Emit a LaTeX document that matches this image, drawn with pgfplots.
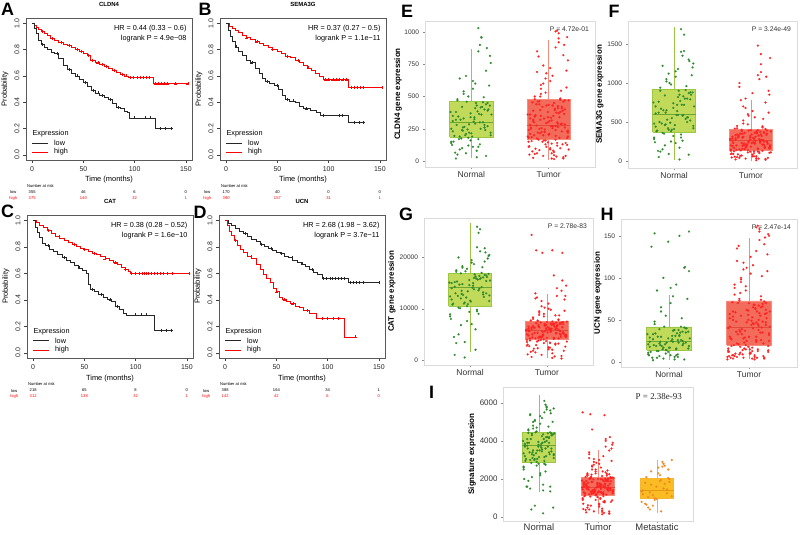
\documentclass[border=0pt]{standalone}
\usepackage{fontspec}
\setmainfont{Liberation Sans}
\newfontfamily\timesf{Liberation Serif}
\usepackage{pgfplots}
\pgfplotsset{compat=1.18}

\definecolor{nfill}{HTML}{C2DA5A}
\definecolor{nedge}{HTML}{9CC745}
\definecolor{nmed}{HTML}{6BA631}
\definecolor{npt}{HTML}{2F8A2F}
\definecolor{tfill}{HTML}{F26B5B}
\definecolor{tedge}{HTML}{F58C7E}
\definecolor{tmed}{HTML}{E04A3A}
\definecolor{tpt}{HTML}{FF2222}
\definecolor{mfill}{HTML}{FBBB22}
\definecolor{medge}{HTML}{F5B731}
\definecolor{mmed}{HTML}{E39A10}
\definecolor{mpt}{HTML}{EE8A22}

\newcommand\fkm{\fontsize{7.3}{8}\selectfont}
\newcommand\frisk{\fontsize{4.1}{4.5}\selectfont}

\pgfplotsset{
 km/.style={scale only axis, width=166bp, height=142bp, anchor=south west,
  xmin=-6, xmax=156, ymin=-0.04, ymax=1.04,
  xtick={0,50,100,150}, ytick={0,0.2,0.4,0.6,0.8,1},
  tick align=outside, major tick length=3bp,
  tick style={black!75, line width=0.4pt}, axis line style={black!65, line width=0.5pt},
  xtick pos=lower, ytick pos=left, clip=false,
  /pgf/number format/assume math mode=true,
  ticklabel style={font=\fontsize{7}{8}\selectfont, text=black!85},
  yticklabel style={rotate=90, anchor=south, /pgf/number format/fixed, /pgf/number format/fixed zerofill, /pgf/number format/precision=1},
  xlabel={Time (months)}, ylabel={Probability},
  label style={font=\fontsize{7.5}{8}\selectfont},
  xlabel style={at={(axis description cs:0.5,-0.141)}, anchor=center},
  ylabel style={at={(axis description cs:-0.127,0.5)}, anchor=center},
  title style={at={(axis description cs:0.5,1.056)}, anchor=center, font=\bfseries\fontsize{6}{7}\selectfont},
 },
 kmline/.style={const plot, line width=0.6pt},
 kmcens/.style={only marks, mark=+, mark size=1.5bp, line width=0.3pt},
 bx/.style={scale only axis, anchor=south west, xmin=0.4, xmax=2.6, xtick={1,2}, xticklabels={Normal,Tumor},
  tick align=outside, major tick length=2.5bp, tick style={black!45, line width=0.4pt},
  axis line style={black!14, line width=0.7pt}, xtick pos=lower, ytick pos=left,
  /pgf/number format/assume math mode=true, scaled y ticks=false,
  ticklabel style={text=black!80},
  xticklabel style={font=\fontsize{8.5}{9}\selectfont, inner sep=1.5bp},
  yticklabel style={font=\fontsize{6.6}{7}\selectfont, /pgf/number format/fixed, /pgf/number format/1000 sep={}},
  ylabel style={font=\bfseries\fontsize{8}{9}\selectfont, anchor=center},
 },
 npts/.style={only marks, mark=*, mark size=1.05bp, color=npt, mark options={line width=0.1pt}},
 tpts/.style={only marks, mark=*, mark size=1.05bp, color=tpt, mark options={line width=0.1pt}},
 mpts/.style={only marks, mark=*, mark size=1.05bp, color=mpt, mark options={line width=0.1pt}},
}

% box: #1 colour prefix, #2 left, #3 right, #4 centre, #5 lower whisker, #6 Q1, #7 median, #8 Q3, #9 upper whisker
\newcommand\bxdraw[9]{%
 \addplot[#1edge, line width=0.7pt] coordinates {(#4,#5)(#4,#6)};
 \addplot[#1edge, line width=0.7pt] coordinates {(#4,#8)(#4,#9)};
 \addplot[fill=#1fill, draw=#1edge, line width=0.6pt] coordinates {(#2,#6)(#3,#6)(#3,#8)(#2,#8)(#2,#6)};
 \addplot[#1med, line width=0.8pt] coordinates {(#2,#7)(#3,#7)};
}

\newcommand\kmtext[2]{%
 \node[anchor=east, font=\fkm] at (axis cs:154,0.96) {#1};
 \node[anchor=east, font=\fkm] at (axis cs:154,0.885) {#2};
 \node[anchor=west, font=\fkm] at (axis cs:-3,0.16) {Expression};
 \draw[black!85, line width=0.6pt] (axis cs:0,0.09) -- (axis cs:15,0.09);
 \draw[red, line width=0.6pt] (axis cs:0,0.02) -- (axis cs:15,0.02);
 \node[anchor=west, font=\fkm] at (axis cs:18,0.09) {low};
 \node[anchor=west, font=\fkm] at (axis cs:18,0.02) {high};
}
\newcommand\kmrisk[8]{%
 \node[font=\frisk] at (axis cs:8,-0.235) {Number at risk};
 \node[font=\frisk] at (axis cs:-18.5,-0.286) {low};
 \node[font=\frisk, text=red] at (axis cs:-18.5,-0.331) {high};
 \node[font=\frisk] at (axis cs:0,-0.286) {#1};
 \node[font=\frisk] at (axis cs:50,-0.286) {#2};
 \node[font=\frisk] at (axis cs:100,-0.286) {#3};
 \node[font=\frisk] at (axis cs:150,-0.286) {#4};
 \node[font=\frisk, text=red] at (axis cs:0,-0.331) {#5};
 \node[font=\frisk, text=red] at (axis cs:50,-0.331) {#6};
 \node[font=\frisk, text=red] at (axis cs:100,-0.331) {#7};
 \node[font=\frisk, text=red] at (axis cs:150,-0.331) {#8};
}

\begin{document}
\begin{tikzpicture}
\useasboundingbox (0,0) rectangle (800bp,535bp);

%% ---------------- A ----------------
\begin{axis}[km, at={(26bp,375bp)}, title={CLDN4}]
\addplot[red, kmline] coordinates {(0,1)(2,0.985)(4,0.97)(6,0.955)(9,0.94)(12,0.925)(15,0.905)(18,0.885)(22,0.87)(26,0.855)(30,0.84)(34,0.83)(38,0.815)(42,0.80)(46,0.785)(50,0.77)(54,0.755)(57,0.72)(62,0.70)(66,0.69)(70,0.67)(74,0.655)(78,0.64)(82,0.625)(86,0.61)(90,0.60)(94,0.59)(118,0.54)(152,0.54)};
\addplot[black!85, kmline] coordinates {(0,1)(2,0.96)(4,0.92)(6,0.87)(9,0.84)(12,0.82)(15,0.80)(19,0.78)(22,0.77)(26,0.73)(30,0.68)(34,0.65)(38,0.62)(42,0.60)(46,0.575)(50,0.55)(54,0.52)(58,0.49)(62,0.47)(66,0.45)(70,0.44)(74,0.42)(78,0.39)(82,0.36)(86,0.35)(90,0.33)(93,0.32)(95,0.28)(120,0.20)(136,0.20)};
\addplot[red, kmcens] coordinates {(10,0.94)(20,0.885)(28,0.855)(36,0.83)(44,0.80)(48,0.785)(55,0.755)(59,0.72)(64,0.70)(68,0.69)(72,0.67)(80,0.64)(88,0.61)(92,0.60)(96,0.59)(99,0.59)(102,0.59)(105,0.59)(108,0.59)(111,0.59)(114,0.59)(120,0.54)(123,0.54)(126,0.54)(129,0.54)(132,0.54)(140,0.54)(152,0.54)};
\addplot[black!85, kmcens] coordinates {(10,0.84)(24,0.77)(36,0.65)(44,0.60)(52,0.55)(60,0.49)(64,0.47)(68,0.45)(76,0.42)(84,0.36)(100,0.28)(110,0.28)(115,0.28)(125,0.20)(130,0.20)(136,0.20)};
\kmtext{HR = 0.44 (0.33 − 0.6)}{logrank P = 4.9e−08}
\kmrisk{355}{46}{6}{0}{375}{140}{32}{1}
\end{axis}

%% ---------------- B ----------------
\begin{axis}[km, at={(220bp,375bp)}, title={SEMA3G}]
\addplot[red, kmline] coordinates {(0,1)(3,0.975)(6,0.96)(9,0.945)(12,0.93)(16,0.91)(20,0.89)(24,0.875)(28,0.86)(32,0.85)(36,0.835)(41,0.82)(45,0.80)(50,0.785)(54,0.77)(58,0.75)(63,0.74)(67,0.72)(71,0.70)(75,0.68)(79,0.66)(83,0.64)(87,0.62)(91,0.60)(95,0.57)(119,0.515)(152,0.515)};
\addplot[black!85, kmline] coordinates {(0,1)(2,0.95)(4,0.90)(6,0.86)(9,0.82)(12,0.79)(16,0.76)(20,0.72)(24,0.70)(28,0.66)(32,0.62)(35,0.58)(38,0.56)(42,0.545)(47,0.53)(51,0.50)(55,0.45)(58,0.42)(62,0.41)(67,0.40)(71,0.37)(75,0.35)(82,0.34)(88,0.32)(92,0.30)(119,0.245)(134,0.245)};
\addplot[red, kmcens] coordinates {(20,0.89)(30,0.86)(45,0.80)(60,0.75)(70,0.72)(80,0.66)(97,0.57)(100,0.57)(104,0.57)(107,0.57)(110,0.57)(114,0.57)(117,0.57)(122,0.515)(125,0.515)(128,0.515)(131,0.515)(134,0.515)(152,0.515)};
\addplot[black!85, kmcens] coordinates {(10,0.82)(25,0.70)(40,0.56)(50,0.53)(60,0.42)(65,0.41)(78,0.35)(95,0.30)(110,0.30)(113,0.30)(125,0.245)(130,0.245)(134,0.245)};
\kmtext{HR = 0.37 (0.27 − 0.5)}{logrank P = 1.1e−11}
\kmrisk{170}{40}{0}{0}{390}{157}{31}{1}
\end{axis}

%% ---------------- C ----------------
\begin{axis}[km, at={(27bp,177bp)}, height=143bp, title={CAT}]
\addplot[red, kmline] coordinates {(0,1)(3,0.985)(6,0.965)(10,0.945)(14,0.925)(18,0.90)(22,0.88)(26,0.865)(30,0.85)(34,0.835)(38,0.82)(42,0.805)(46,0.79)(50,0.78)(54,0.765)(58,0.75)(62,0.74)(66,0.725)(70,0.71)(74,0.695)(78,0.68)(82,0.665)(86,0.645)(90,0.63)(93,0.615)(95,0.60)(152,0.60)};
\addplot[black!85, kmline] coordinates {(0,1)(2,0.95)(4,0.91)(6,0.87)(9,0.83)(12,0.81)(16,0.78)(20,0.765)(24,0.74)(28,0.72)(32,0.70)(36,0.68)(40,0.66)(44,0.64)(48,0.62)(52,0.60)(54,0.52)(56,0.48)(60,0.46)(64,0.44)(68,0.42)(72,0.40)(76,0.385)(80,0.35)(84,0.33)(88,0.30)(91,0.285)(118,0.17)(135,0.17)};
\addplot[red, kmcens] coordinates {(15,0.925)(25,0.88)(40,0.82)(50,0.78)(60,0.75)(70,0.71)(80,0.68)(90,0.63)(96,0.60)(100,0.60)(103,0.60)(106,0.60)(108,0.60)(110,0.60)(112,0.60)(115,0.60)(118,0.60)(121,0.60)(124,0.60)(127,0.60)(131,0.60)(136,0.60)(152,0.60)};
\addplot[black!85, kmcens] coordinates {(15,0.81)(30,0.72)(45,0.64)(58,0.48)(66,0.44)(75,0.40)(82,0.35)(100,0.285)(105,0.285)(110,0.285)(125,0.17)(130,0.17)(135,0.17)};
\kmtext{HR = 0.38 (0.28 − 0.52)}{logrank P = 1.6e−10}
\kmrisk{218}{65}{8}{0}{312}{138}{32}{1}
\end{axis}

%% ---------------- D ----------------
\begin{axis}[km, at={(219bp,177bp)}, height=143bp, title={UCN}]
\addplot[black!85, kmline] coordinates {(0,1)(3,0.98)(6,0.96)(10,0.94)(14,0.92)(18,0.90)(22,0.88)(26,0.86)(30,0.84)(34,0.82)(38,0.80)(42,0.79)(46,0.77)(50,0.76)(54,0.75)(58,0.73)(62,0.72)(66,0.70)(70,0.685)(74,0.67)(78,0.65)(82,0.63)(86,0.61)(90,0.59)(95,0.56)(120,0.53)(150,0.53)};
\addplot[red, kmline] coordinates {(0,1)(2,0.96)(4,0.92)(6,0.89)(9,0.85)(12,0.81)(15,0.78)(18,0.76)(22,0.73)(26,0.71)(30,0.67)(34,0.63)(37,0.59)(40,0.56)(44,0.53)(47,0.49)(50,0.46)(53,0.42)(56,0.40)(60,0.39)(64,0.37)(68,0.35)(72,0.34)(76,0.32)(82,0.30)(89,0.26)(116,0.12)(127,0.12)};
\addplot[black!85, kmcens] coordinates {(20,0.90)(35,0.82)(45,0.79)(55,0.75)(65,0.72)(75,0.67)(85,0.63)(96,0.56)(99,0.56)(102,0.56)(104,0.56)(107,0.56)(110,0.56)(113,0.56)(116,0.56)(122,0.53)(125,0.53)(128,0.53)(131,0.53)(135,0.53)(150,0.53)};
\addplot[red, kmcens] coordinates {(10,0.85)(25,0.73)(50,0.46)(58,0.40)(66,0.37)(80,0.32)(95,0.26)(100,0.26)(105,0.26)(110,0.26)(127,0.12)};
\kmtext{HR = 2.68 (1.98 − 3.62)}{logrank P = 3.7e−11}
\kmrisk{388}{164}{34}{1}{142}{42}{6}{0}
\end{axis}

%% ---------------- E ----------------
\begin{axis}[bx, at={(425bp,368bp)}, width=170bp, height=146bp, ymin=-46, ymax=1085, ytick={0,250,500,750,1000},
 ylabel={CLDN4 gene expression}, ylabel style={at={(axis description cs:-0.159,0.5)}}]
\bxdraw{n}{0.72}{1.28}{1}{20}{186}{302}{465}{868}
\bxdraw{t}{1.72}{2.28}{2}{10}{170}{279}{480}{938}
\addplot[npts] coordinates {(0.76,310)(1.09,1030)(0.96,180)(1.21,450)(0.85,90)(1.02,620)(1.17,260)(0.80,380)(1.07,30)(0.90,520)(1.25,200)(0.99,340)(1.13,960)(0.74,140)(1.05,410)(0.88,240)(1.19,700)(0.93,60)(1.11,300)(0.82,470)
(0.76,230)(1.09,850)(0.96,120)(1.21,390)(0.85,190)(1.02,560)(1.17,280)(0.80,20)(1.07,430)(0.90,330)(1.25,760)(0.99,160)(1.13,360)(0.74,250)(1.05,600)(0.88,100)(1.19,440)(0.93,210)(1.11,900)(0.82,50)
(0.76,350)(1.09,170)(0.96,500)(1.21,270)(0.85,640)(1.02,110)(1.17,400)(0.80,320)(1.07,80)(0.90,540)(1.25,220)(0.99,370)(1.13,955)(0.74,150)(1.05,290)(0.88,420)(1.19,40)(0.93,660)(1.11,130)(0.82,480)
(1.03,305)(0.78,195)(1.15,455)(0.91,265)(1.23,585)(0.83,345)(1.00,215)(1.12,415)(0.75,125)(1.08,385)(0.95,245)(1.20,875)(0.87,175)(1.04,325)(1.16,495)(0.79,65)(1.10,365)(0.97,285)(1.24,815)(0.89,235)
(0.81,280)(1.14,420)(0.92,200)(1.26,360)(0.77,150)(1.06,450)(1.18,240)(0.86,320)(1.01,190)(1.22,400)(0.89,260)(1.09,110)(0.73,380)(1.15,300)(0.97,220)(1.24,430)(0.84,170)(1.04,340)(1.12,250)(0.94,460)};
\addplot[tpts] coordinates {(1.76,280)(2.09,1005)(1.96,160)(2.21,470)(1.85,60)(2.02,720)(2.17,230)(1.80,390)(2.07,15)(1.90,560)(2.25,190)(1.99,340)(2.13,950)(1.74,110)(2.05,430)(1.88,250)(2.19,820)(1.93,40)(2.11,300)(1.82,500)
(1.76,210)(2.09,880)(1.96,130)(2.21,400)(1.85,175)(2.02,620)(2.17,290)(1.80,25)(2.07,450)(1.90,350)(2.25,780)(1.99,145)(2.13,370)(1.74,240)(2.05,660)(1.88,85)(2.19,460)(1.93,200)(2.11,1010)(1.82,55)
(1.76,330)(2.09,165)(1.96,530)(2.21,260)(1.85,690)(2.02,100)(2.17,420)(1.80,310)(2.07,70)(1.90,590)(2.25,220)(1.99,380)(2.13,920)(1.74,150)(2.05,270)(1.88,440)(2.19,30)(1.93,740)(2.11,120)(1.82,480)
(1.76,360)(2.09,195)(1.96,640)(2.21,285)(1.85,850)(2.02,90)(2.17,410)(1.80,320)(2.07,45)(1.90,520)(2.25,235)(1.99,300)(2.13,990)(1.74,180)(2.05,255)(1.88,465)(2.19,20)(1.93,600)(2.11,140)(1.82,345)
(2.03,270)(1.78,185)(2.15,475)(1.91,225)(2.23,700)(1.83,355)(2.00,205)(2.12,425)(1.75,115)(2.08,395)(1.95,245)(2.20,900)(1.87,165)(2.04,315)(2.16,545)(1.79,75)(2.10,375)(1.97,295)(2.24,960)(1.89,215)
(2.03,335)(1.78,155)(2.15,485)(1.91,255)(2.23,570)(1.83,95)(2.00,435)(2.12,265)(1.75,50)(2.08,405)(1.95,225)(2.20,365)(1.87,810)(2.04,135)(2.16,285)(1.79,455)(2.10,35)(1.97,680)(2.24,125)(1.89,395)
(1.81,300)(2.14,180)(1.92,420)(2.26,90)(1.77,250)(2.06,350)(2.18,130)(1.86,460)(2.01,210)(2.22,40)(1.89,320)(2.09,270)(1.73,190)(2.15,380)(1.97,110)(2.24,230)(1.84,440)(2.04,60)(2.12,290)(1.94,160)
(1.81,200)(2.14,340)(1.92,150)(2.26,470)(1.77,260)(2.06,80)(2.18,390)(1.86,220)(2.01,310)(2.22,140)(1.89,500)(2.09,240)(1.73,360)(2.15,100)(1.97,430)(2.24,180)(1.84,275)(2.04,20)(2.12,410)(1.94,330)};
\node[anchor=north east, font=\fontsize{6.8}{7}\selectfont, text=black!80] at (rel axis cs:0.985,0.985) {P = 4.72e-01};
\end{axis}

%% ---------------- F ----------------
\begin{axis}[bx, at={(628bp,367bp)}, width=169bp, height=147bp, ymin=-90, ymax=1795, ytick={0,500,1000,1500},
 ylabel={SEMA3G gene expression}, ylabel style={at={(axis description cs:-0.166,0.5)}}]
\bxdraw{n}{0.72}{1.28}{1}{10}{370}{600}{920}{1715}
\bxdraw{t}{1.72}{2.28}{2}{5}{140}{270}{400}{780}
\addplot[npts] coordinates {(0.76,610)(1.09,1690)(0.96,380)(1.21,880)(0.85,150)(1.02,1150)(1.17,500)(0.80,760)(1.07,20)(0.90,1020)(1.25,420)(0.99,680)(1.13,1620)(0.74,300)(1.05,820)(0.88,460)(1.19,1300)(0.93,90)(1.11,580)(0.82,940)
(0.76,440)(1.09,1400)(0.96,250)(1.21,790)(0.85,360)(1.02,1080)(1.17,560)(0.80,50)(1.07,850)(0.90,650)(1.25,1250)(0.99,320)(1.13,720)(0.74,480)(1.05,1180)(0.88,200)(1.19,870)(0.93,400)(1.11,1350)(0.82,120)
(0.76,700)(1.09,340)(0.96,980)(1.21,520)(0.85,1220)(1.02,230)(1.17,800)(0.80,620)(1.07,170)(0.90,1050)(1.25,450)(0.99,740)(1.13,1410)(0.74,280)(1.05,590)(0.88,840)(1.19,80)(0.93,1120)(1.11,260)(0.82,900)
(1.03,590)(0.78,390)(1.15,910)(0.91,530)(1.23,1100)(0.83,670)(1.00,410)(1.12,830)(0.75,240)(1.08,770)(0.95,490)(1.20,1280)(0.87,350)(1.04,640)(1.16,960)(0.79,130)(1.10,720)(0.97,550)(1.24,1200)(0.89,470)
(0.81,500)(1.14,800)(0.92,420)(1.26,700)(0.77,380)(1.06,900)(1.18,560)(0.86,650)(1.01,460)(1.22,850)(0.89,620)(1.09,300)(0.73,750)(1.15,540)(0.97,400)(1.24,880)(0.84,480)(1.04,720)(1.12,590)(0.94,1000)};
\addplot[tpts] coordinates {(1.76,260)(2.09,1480)(1.96,140)(2.21,390)(1.85,40)(2.02,870)(2.17,210)(1.80,330)(2.07,10)(1.90,520)(2.25,170)(1.99,300)(2.13,1370)(1.74,90)(2.05,360)(1.88,230)(2.19,750)(1.93,30)(2.11,280)(1.82,420)
(1.76,190)(2.09,1100)(1.96,110)(2.21,350)(1.85,150)(2.02,640)(2.17,250)(1.80,20)(2.07,380)(1.90,310)(2.25,1320)(1.99,120)(2.13,340)(1.74,200)(2.05,560)(1.88,70)(2.19,410)(1.93,180)(2.11,1050)(1.82,50)
(1.76,290)(2.09,150)(1.96,470)(2.21,240)(1.85,1000)(2.02,80)(2.17,370)(1.80,270)(2.07,60)(1.90,700)(2.25,190)(1.99,320)(2.13,1240)(1.74,130)(2.05,220)(1.88,400)(2.19,15)(1.93,800)(2.11,100)(1.82,450)
(1.76,310)(2.09,160)(1.96,600)(2.21,250)(1.85,950)(2.02,60)(2.17,360)(1.80,290)(2.07,35)(1.90,480)(2.25,200)(1.99,270)(2.13,1140)(1.74,145)(2.05,230)(1.88,385)(2.19,25)(1.93,680)(2.11,115)(1.82,340)
(2.03,240)(1.78,165)(2.15,430)(1.91,205)(2.23,900)(1.83,300)(2.00,185)(2.12,375)(1.75,95)(2.08,355)(1.95,215)(2.20,1080)(1.87,135)(2.04,285)(2.16,540)(1.79,55)(2.10,325)(1.97,255)(2.24,850)(1.89,195)
(2.03,295)(1.78,125)(2.15,445)(1.91,225)(2.23,620)(1.83,85)(2.00,395)(2.12,235)(1.75,45)(2.08,365)(1.95,205)(2.20,335)(1.87,780)(2.04,125)(2.16,265)(1.79,415)(2.10,30)(1.97,580)(2.24,105)(1.89,350)
(1.81,200)(2.14,320)(1.92,150)(2.26,380)(1.77,90)(2.06,260)(2.18,170)(1.86,350)(2.01,230)(2.22,40)(1.89,300)(2.09,120)(1.73,280)(2.15,210)(1.97,390)(2.24,160)(1.84,330)(2.04,60)(2.12,250)(1.94,180)
(1.81,140)(2.14,270)(1.92,360)(2.26,110)(1.77,230)(2.06,310)(2.18,190)(1.86,65)(2.01,340)(2.22,220)(1.89,155)(2.09,395)(1.73,280)(2.15,130)(1.97,240)(2.24,175)(1.84,315)(2.04,100)(2.12,265)(1.94,205)};
\node[anchor=north east, font=\fontsize{6.8}{7}\selectfont, text=black!80] at (rel axis cs:0.985,0.985) {P = 3.24e-49};
\end{axis}

%% ---------------- G ----------------
\begin{axis}[bx, at={(424bp,170bp)}, width=169bp, height=147bp, ymin=-975, ymax=27700, ytick={0,10000,20000},
 ylabel={CAT gene expression}, ylabel style={at={(axis description cs:-0.19,0.5)}}]
\bxdraw{n}{0.72}{1.28}{1}{1560}{10530}{14240}{16970}{26700}
\bxdraw{t}{1.72}{2.28}{2}{300}{4100}{5850}{7600}{12900}
\addplot[npts] coordinates {(0.76,14000)(1.09,26000)(0.96,10500)(1.21,16500)(0.85,5000)(1.02,19500)(1.17,12800)(0.80,15200)(1.07,2000)(0.90,18300)(1.25,11500)(0.99,14600)(1.13,25500)(0.74,8500)(1.05,16000)(0.88,12000)(1.19,21800)(0.93,3500)(1.11,13600)(0.82,17200)
(0.76,11800)(1.09,22000)(0.96,7600)(1.21,15400)(0.85,10200)(1.02,19000)(1.17,13200)(0.80,1000)(1.07,16300)(0.90,14800)(1.25,20500)(0.99,9400)(1.13,15800)(0.74,12400)(1.05,18700)(0.88,6800)(1.19,16600)(0.93,11200)(1.11,24800)(0.82,3300)
(0.76,15000)(1.09,9800)(0.96,17800)(1.21,13000)(0.85,20000)(1.02,7000)(1.17,16100)(0.80,14300)(1.07,6000)(0.90,18000)(1.25,12600)(0.99,15600)(1.13,21200)(0.74,8900)(1.05,13800)(0.88,16900)(1.19,19200)(0.93,500)(1.11,9000)(0.82,17500)
(1.03,14100)(0.78,11000)(1.15,17000)(0.91,12700)(1.23,19800)(0.83,15300)(1.00,11600)(1.12,16400)(0.75,8000)(1.08,15900)(0.95,12200)(1.20,21000)(0.87,10100)(1.04,14500)(1.16,18100)(0.79,4500)(1.10,15700)(0.97,13400)(1.24,20300)(0.89,12900)
(0.81,13000)(1.14,16000)(0.92,11000)(1.26,15500)(0.77,10800)(1.06,16700)(1.18,12300)(0.86,14700)(1.01,11400)(1.22,16200)(0.89,13500)(1.09,9500)(0.73,15100)(1.15,14200)(0.97,10900)(1.24,16800)(0.84,12500)(1.04,15000)(1.12,13900)(0.94,17300)};
\addplot[tpts] coordinates {(1.76,5800)(2.09,6900)(1.96,4000)(2.21,7400)(1.85,1500)(2.02,11000)(2.17,5100)(1.80,24400)(2.07,400)(1.90,9200)(2.25,4500)(1.99,6200)(2.13,6500)(1.74,2800)(2.05,7100)(1.88,5300)(2.19,13500)(1.93,1000)(2.11,6000)(1.82,8000)
(1.76,4800)(2.09,16500)(1.96,3300)(2.21,7000)(1.85,4200)(2.02,10000)(2.17,5600)(1.80,600)(2.07,7500)(1.90,6400)(2.25,14500)(1.99,3700)(2.13,6700)(1.74,5000)(2.05,9800)(1.88,2300)(2.19,7300)(1.93,4400)(2.11,8700)(1.82,1800)
(1.76,6100)(2.09,4300)(1.96,8500)(2.21,5400)(1.85,12000)(2.02,2500)(2.17,7200)(1.80,6300)(2.07,2000)(1.90,9500)(2.25,4900)(1.99,6800)(2.13,14000)(1.74,3500)(2.05,5700)(1.88,7700)(2.19,800)(1.93,11500)(2.11,3000)(1.82,8300)
(1.76,6500)(2.09,4100)(1.96,9000)(2.21,5200)(1.85,13000)(2.02,2100)(2.17,7000)(1.80,6000)(2.07,1300)(1.90,8800)(2.25,4700)(1.99,5900)(2.13,12500)(1.74,3900)(2.05,5500)(1.88,7600)(2.19,300)(1.93,10500)(2.11,3200)(1.82,6600)
(1.86,21400)(1.94,20900)(2.07,21400)(2.20,20900)
(2.03,5900)(1.78,4200)(2.15,7800)(1.91,4600)(2.23,11800)(1.83,6300)(2.00,4300)(2.12,7300)(1.75,3000)(2.08,6900)(1.95,5000)(2.20,15500)(1.87,3600)(2.04,6100)(2.16,8700)(1.79,1600)(2.10,6500)(1.97,5600)(2.24,12500)(1.89,4400)
(2.03,6200)(1.78,3800)(2.15,7900)(1.91,4500)(2.23,9600)(1.83,2200)(2.00,7400)(2.12,5300)(1.75,1100)(2.08,7000)(1.95,4800)(2.20,6400)(1.87,12200)(2.04,3400)(2.16,5800)(1.79,7700)(2.10,700)(1.97,10200)(2.24,2600)(1.89,6800)
(1.81,5000)(2.14,6800)(1.92,3900)(2.26,7500)(1.77,2700)(2.06,6100)(2.18,4500)(1.86,7200)(2.01,5400)(2.22,1800)(1.89,6600)(2.09,4300)(1.73,5700)(2.15,3200)(1.97,7000)(2.24,4800)(1.84,6300)(2.04,2400)(2.12,5200)(1.94,4700)
(1.81,4400)(2.14,6000)(1.92,7300)(2.26,3600)(1.77,5600)(2.06,6900)(2.18,4900)(1.86,2900)(2.01,6400)(2.22,5100)(1.89,3800)(2.09,7100)(1.73,5900)(2.15,4200)(1.97,6700)(2.24,4600)(1.84,5300)(2.04,3300)(2.12,6200)(1.94,5500)};
\node[anchor=north east, font=\fontsize{6.8}{7}\selectfont, text=black!80] at (rel axis cs:0.985,0.985) {P = 2.78e-83};
\end{axis}

%% ---------------- H ----------------
\begin{axis}[bx, at={(621bp,168bp)}, width=176bp, height=148bp, ymin=-6, ymax=170, ytick={0,50,100,150},
 ylabel={UCN gene expression}, ylabel style={at={(axis description cs:-0.131,0.5)}}]
\bxdraw{n}{0.72}{1.28}{1}{2}{14}{24}{41.6}{80}
\bxdraw{t}{1.72}{2.28}{2}{3}{20}{41.6}{72.6}{147}
\addplot[npts] coordinates {(0.76,24)(1.09,16)(0.96,14)(1.21,40)(0.85,5)(1.02,88)(1.17,20)(0.80,33)(1.07,3)(0.90,60)(1.25,155)(0.99,28)(1.13,150)(0.74,9)(1.05,37)(0.88,22)(1.19,112)(0.93,4)(1.11,26)(0.82,45)
(0.76,18)(1.09,92)(0.96,10)(1.21,35)(0.85,13)(1.02,70)(1.17,25)(0.80,2)(1.07,38)(0.90,30)(1.25,108)(0.99,12)(1.13,32)(0.74,21)(1.05,78)(0.88,7)(1.19,41)(0.93,17)(1.11,6)(0.82,153)
(0.76,29)(1.09,15)(0.96,55)(1.21,23)(0.85,85)(1.02,8)(1.17,36)(0.80,27)(1.07,6)(0.90,65)(1.25,19)(0.99,143)(1.13,31)(0.74,11)(1.05,24)(0.88,39)(1.19,3)(0.93,100)(1.11,9)(0.82,48)
(1.03,25)(0.78,137)(1.15,42)(0.91,19)(1.23,75)(0.83,34)(1.00,17)(1.12,38)(0.75,8)(1.08,31)(0.95,21)(1.20,113)(0.87,13)(1.04,27)(1.16,52)(0.79,5)(1.10,34)(0.97,23)(1.24,16)(0.89,20)
(0.81,20)(1.14,35)(0.92,15)(1.26,28)(0.77,12)(1.06,38)(1.18,22)(0.86,30)(1.01,17)(1.22,40)(0.89,24)(1.09,8)(0.73,33)(1.15,26)(0.97,14)(1.24,36)(0.84,19)(1.04,31)(1.12,23)(0.94,42)};
\addplot[tpts] coordinates {(1.76,42)(2.09,160)(1.96,20)(2.21,70)(1.85,6)(2.02,125)(2.17,35)(1.80,60)(2.07,3)(1.90,95)(2.25,25)(1.99,50)(2.13,155)(1.74,12)(2.05,65)(1.88,38)(2.19,140)(1.93,5)(2.11,45)(1.82,80)
(1.76,30)(2.09,132)(1.96,15)(2.21,62)(1.85,22)(2.02,105)(2.17,48)(1.80,4)(2.07,68)(1.90,55)(2.25,150)(1.99,18)(2.13,58)(1.74,40)(2.05,115)(1.88,9)(2.19,72)(1.93,28)(2.11,162)(1.82,7)
(1.76,52)(2.09,24)(1.96,85)(2.21,44)(1.85,120)(2.02,10)(2.17,66)(1.80,54)(2.07,8)(1.90,100)(2.25,32)(1.99,61)(2.13,145)(1.74,14)(2.05,46)(1.88,75)(2.19,4)(1.93,110)(2.11,13)(1.82,88)
(1.76,57)(2.09,26)(1.96,90)(2.21,47)(1.85,135)(2.02,11)(2.17,69)(1.80,50)(2.07,6)(1.90,98)(2.25,34)(1.99,56)(2.13,158)(1.74,16)(2.05,40)(1.88,73)(2.19,5)(1.93,118)(2.11,15)(1.82,92)
(2.03,44)(1.78,27)(2.15,74)(1.91,33)(2.23,128)(1.83,59)(2.00,30)(2.12,67)(1.75,12)(2.08,63)(1.95,37)(2.20,148)(1.87,21)(2.04,53)(2.16,102)(1.79,8)(2.10,60)(1.97,47)(2.24,152)(1.89,36)
(2.03,49)(1.78,19)(2.15,78)(1.91,39)(2.23,108)(1.83,10)(2.00,70)(2.12,43)(1.75,7)(2.08,64)(1.95,29)(2.20,57)(1.87,138)(2.04,17)(2.16,41)(1.79,71)(2.10,5)(1.97,112)(2.24,14)(1.89,82)
(1.81,8)(2.14,35)(1.92,14)(2.26,60)(1.77,5)(2.06,45)(2.18,22)(1.86,70)(2.01,10)(2.22,52)(1.89,18)(2.09,30)(1.73,6)(2.15,65)(1.97,25)(2.24,12)(1.84,48)(2.04,4)(2.12,38)(1.94,16)
(1.81,20)(2.14,55)(1.92,9)(2.26,42)(1.77,28)(2.06,68)(2.18,7)(1.86,33)(2.01,15)(2.22,58)(1.89,11)(2.09,47)(1.73,3)(2.15,26)(1.97,62)(2.24,19)(1.84,36)(2.04,13)(2.12,50)(1.94,23)};
\node[anchor=north east, font=\fontsize{6.8}{7}\selectfont, text=black!80] at (rel axis cs:0.985,0.985) {P = 2.47e-14};
\end{axis}

%% ---------------- I ----------------
\begin{axis}[bx, at={(503bp,14bp)}, width=190bp, height=134bp, xmin=0.39, xmax=3.61, xtick={1,2,3}, xticklabels={Normal,Tumor,Metastatic},
 major tick length=2bp,
 xticklabel style={font=\fontsize{9.5}{10}\selectfont, inner sep=0.8bp}, yticklabel style={font=\fontsize{8}{9}\selectfont},
 ymin=-204, ymax=6830, ytick={0,2000,4000,6000},
 ylabel={Signature expression}, ylabel style={at={(axis description cs:-0.163,0.5)}}]
\bxdraw{n}{0.72}{1.28}{1}{1330}{2900}{3780}{4430}{6430}
\bxdraw{t}{1.72}{2.28}{2}{150}{1170}{1580}{2090}{3500}
\bxdraw{m}{2.72}{3.28}{3}{200}{970}{1380}{2040}{3010}
\addplot[npts] coordinates {(0.76,3800)(1.09,6100)(0.96,2900)(1.21,4400)(0.85,1500)(1.02,5300)(1.17,3400)(0.80,4100)(1.07,200)(0.90,5000)(1.25,3100)(0.99,3700)(1.13,5800)(0.74,2500)(1.05,4250)(0.88,3300)(1.19,5600)(0.93,600)(1.11,3600)(0.82,4600)
(0.76,3200)(1.09,5500)(0.96,2700)(1.21,4300)(0.85,3000)(1.02,4900)(1.17,3900)(0.80,1600)(1.07,4350)(0.90,3500)(1.25,5700)(0.99,2800)(1.13,4000)(0.74,3350)(1.05,5200)(0.88,2100)(1.19,4450)(0.93,3050)(1.11,5900)(0.82,1900)
(0.76,3850)(1.09,2950)(0.96,4700)(1.21,3450)(0.85,5400)(1.02,2300)(1.17,4150)(0.80,3750)(1.07,1400)(0.90,4800)(1.25,3250)(0.99,3950)(1.13,5650)(0.74,2650)(1.05,3550)(0.88,4380)(1.19,1600)(0.93,5100)(1.11,2400)(0.82,4550)
(0.76,3700)(1.09,3150)(0.96,4500)(1.21,3600)(0.85,5350)(1.02,2200)(1.17,4200)(0.80,3900)(1.07,1700)(0.90,4650)(1.25,3300)(0.99,3800)(1.13,5750)(0.74,2600)(1.05,3450)(0.88,4300)(1.19,1350)(0.93,5050)(1.11,2750)(0.82,4420)
(1.03,3750)(0.78,3050)(1.15,4400)(0.91,3250)(1.23,5000)(0.83,3900)(1.00,3150)(1.12,4200)(0.75,2000)(1.08,4100)(0.95,3350)(1.20,5450)(0.87,2850)(1.04,3650)(1.16,4750)(0.79,1600)(1.10,3950)(0.97,3500)(1.24,500)(0.89,3400)(0.87,400)
(0.81,3600)(1.14,4200)(0.92,3000)(1.26,4400)(0.77,2950)(1.06,3900)(1.18,3300)(0.86,4100)(1.01,3500)(1.22,4300)(0.89,3100)(1.09,2800)(0.73,4000)(1.15,3700)(0.97,3050)(1.24,4350)(0.84,3400)(1.04,3850)(1.12,3200)(0.94,4450)};
\addplot[tpts] coordinates {(1.76,1600)(2.09,800)(1.96,1150)(2.21,2100)(1.85,400)(2.02,3000)(2.17,1400)(1.80,1900)(2.07,150)(1.90,2700)(2.25,1250)(1.99,1750)(2.13,4100)(1.74,5500)(2.05,2000)(1.88,1350)(2.19,3500)(1.93,300)(2.11,1550)(1.82,2300)
(1.76,1300)(2.09,3200)(1.96,900)(2.21,2050)(1.85,1200)(2.02,2800)(2.17,1650)(1.80,250)(2.07,2150)(1.90,1850)(2.25,3900)(1.99,1050)(2.13,1950)(1.74,1450)(2.05,2600)(1.88,600)(2.19,2250)(1.93,1280)(2.11,5350)(1.82,500)
(1.76,1700)(2.09,1100)(1.96,2400)(2.21,1500)(1.85,3300)(2.02,700)(2.17,1980)(1.80,1680)(2.07,350)(1.90,2500)(2.25,1380)(1.99,1800)(2.13,4000)(1.74,950)(2.05,1580)(1.88,2080)(2.19,200)(1.93,2900)(2.11,850)(1.82,2200)
(1.76,1750)(2.09,1180)(1.96,2500)(2.21,1420)(1.85,3100)(2.02,650)(2.17,2030)(1.80,1720)(2.07,450)(1.90,4600)(2.25,1330)(1.99,1620)(2.13,2350)(1.74,1000)(2.05,1480)(1.88,2120)(2.19,300)(1.93,2750)(2.11,780)(1.82,2250)
(1.76,1820)(2.09,1220)(1.96,2300)(2.21,1520)(1.85,3400)(2.02,550)(2.17,1880)(1.80,1600)(2.07,280)(1.90,2650)(2.25,1260)(1.99,1700)(2.13,3700)(1.74,900)(2.05,1530)(1.88,2060)(2.19,180)(1.93,3050)(2.11,820)(1.82,2180)
(2.03,1650)(1.78,1240)(2.15,2180)(1.91,1370)(2.23,3600)(1.83,1800)(2.00,1290)(2.12,2020)(1.75,700)(2.08,1950)(1.95,1430)(2.20,4200)(1.87,1080)(2.04,1720)(2.16,2450)(1.79,380)(2.10,1880)(1.97,1560)(2.24,3800)(1.89,1310)
(2.03,1770)(1.78,1130)(2.15,2270)(1.91,1410)(2.23,2950)(1.83,620)(2.00,2010)(2.12,1610)(1.75,420)(2.08,2400)(1.95,1340)(2.20,1740)(1.87,5400)(2.04,960)(2.16,1510)(1.79,2110)(2.10,220)(1.97,2850)(2.24,880)(1.89,2230)
(1.81,1500)(2.14,1900)(1.92,1250)(2.26,2050)(1.77,1100)(2.06,1700)(2.18,1400)(1.86,2000)(2.01,1600)(2.22,800)(1.89,1850)(2.09,1300)(1.73,1550)(2.15,1950)(1.97,1200)(2.24,2080)(1.84,1450)(2.04,1000)(2.12,1750)(1.94,1350)
(1.81,1650)(2.14,1180)(1.92,1980)(2.26,1420)(1.77,1780)(2.06,1270)(2.18,1530)(1.86,2020)(2.01,1350)(2.22,1880)(1.89,1220)(2.09,1620)(1.73,1920)(2.15,1480)(1.97,1150)(2.24,2060)(1.84,1570)(2.04,1320)(2.12,1720)(1.94,1450)};
\addplot[mpts] coordinates {(2.76,1400)(3.09,2900)(2.96,1000)(3.21,2000)(2.85,500)(3.02,2600)(3.17,1250)(2.80,1800)(3.07,300)(2.90,2400)(3.25,1100)(2.99,1600)(3.13,2700)(2.74,800)(3.05,1900)(2.88,1300)(3.19,2500)(2.93,600)(3.11,1500)(2.82,2100)
(2.76,1200)(3.09,2650)(2.96,900)(3.21,1850)(2.85,1050)(3.02,2300)(3.17,1450)(2.80,700)(3.07,1950)(2.90,1700)(3.25,3000)(2.99,950)(3.13,1750)(2.74,1350)(3.05,2200)(2.88,400)(3.19,2050)(2.93,1150)(3.11,2800)(2.82,650)};
\node[anchor=north east, font=\timesf\fontsize{9}{10}\selectfont, text=black!85] at (rel axis cs:0.96,0.975) {P = 2.38e-93};
\end{axis}

%% ---------------- panel letters ----------------
\begin{scope}[every node/.style={font=\bfseries\fontsize{18}{18}\selectfont, inner sep=0pt}]
\node at (7.5bp,526bp) {A};
\node at (205bp,526bp) {B};
\node at (7.5bp,324bp) {C};
\node at (200bp,323bp) {D};
\node at (407bp,524bp) {E};
\node at (614bp,524bp) {F};
\node at (406bp,321bp) {G};
\node at (607bp,321bp) {H};
\node at (431.5bp,142.5bp) {I};
\end{scope}
\end{tikzpicture}
\end{document}
